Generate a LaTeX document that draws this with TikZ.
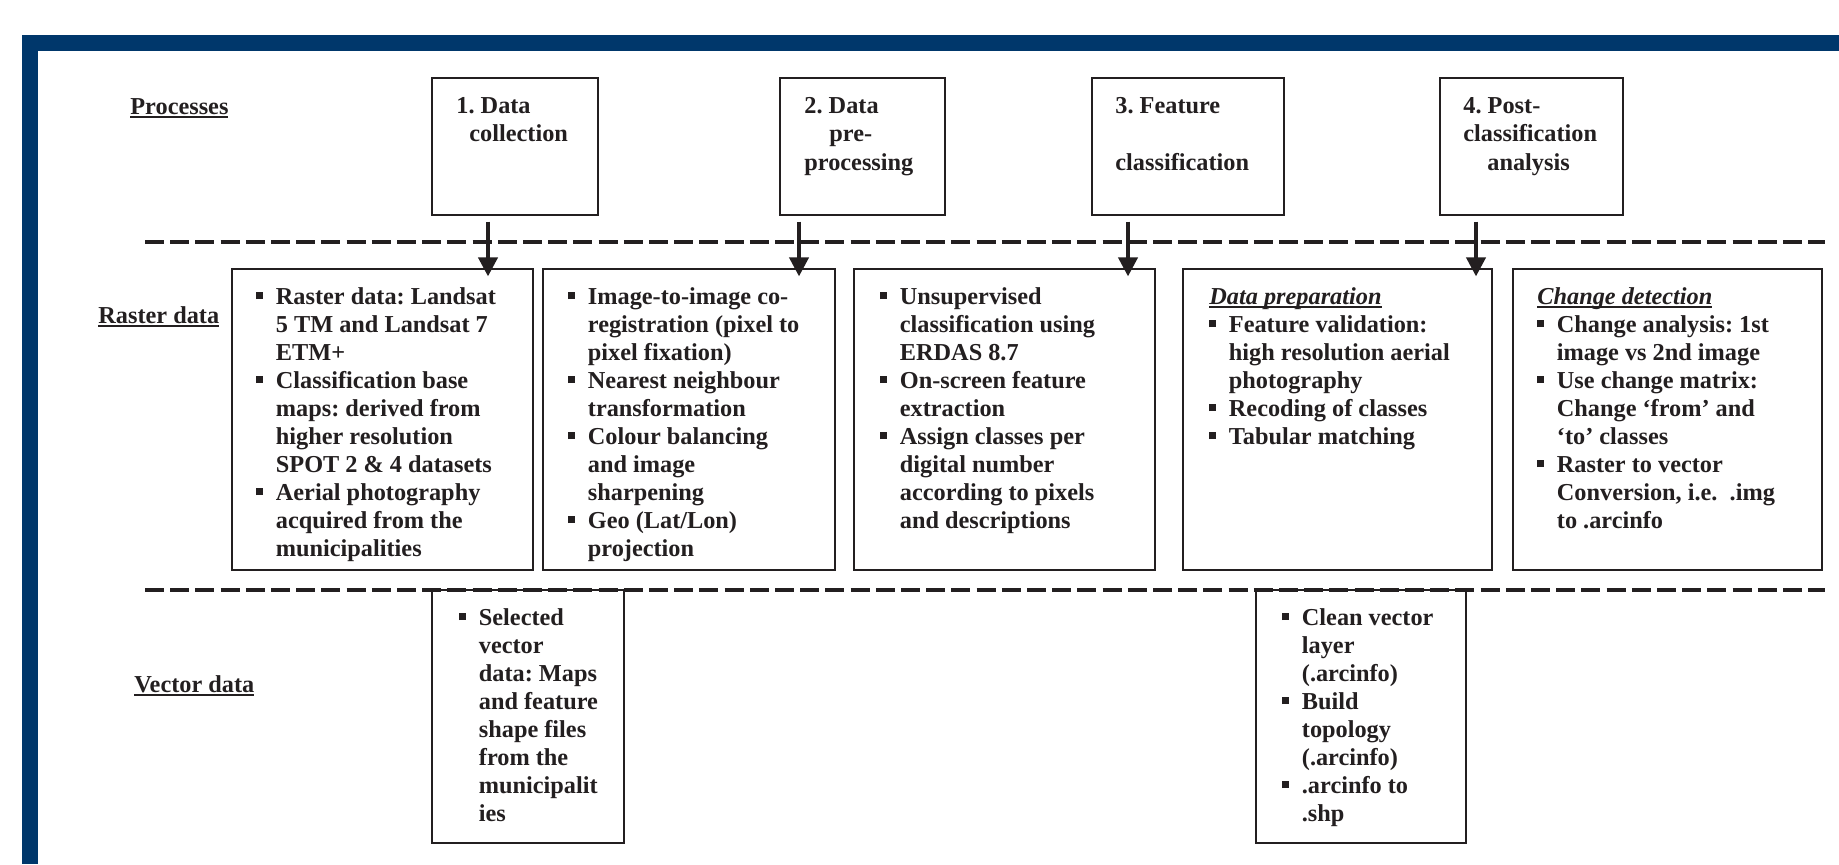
\documentclass[tikz,border=0pt]{standalone}
\usepackage{fontspec}
\setmainfont{Liberation Serif}
\usetikzlibrary{arrows.meta}
\definecolor{frameblue}{RGB}{0,55,107}
\definecolor{ink}{RGB}{35,31,32}
\newcommand\bul{\rule[2.5pt]{3.4pt}{3.5pt}\hspace*{6.35pt}}
\newcommand\ind{\hspace*{9.75pt}}
\newcommand\myul[1]{\setbox0\hbox{#1}\rlap{\rule[-2pt]{\wd0}{1.25pt}}\box0}
\frenchspacing
\begin{document}
\begin{tikzpicture}[x=0.5pt,y=-0.5pt,
  box/.style={draw=ink, line width=0.6pt, inner sep=0pt, fill=white},
  txt/.style={anchor=base west, inner sep=0pt, align=left, text=ink,
    font=\fontsize{12.15}{14}\selectfont\bfseries\frenchspacing},
  ptxt/.style={anchor=base west, inner sep=0pt, align=left, text=ink,
    font=\fontsize{12.15}{14.25}\selectfont\bfseries\frenchspacing},
  dashline/.style={draw=ink, line width=2.1pt, dash pattern=on 9.5pt off 3.1pt},
  arr/.style={draw=ink, line width=2pt, -{Triangle[length=9.5pt,width=9.5pt]}}]
\useasboundingbox (0,0) rectangle (1839,864);
% frame
\fill[frameblue] (22,35) rectangle (1839,51);
\fill[frameblue] (22,35) rectangle (38,864);
% row labels
\node[txt] (lproc) at (130,114) {\myul{Processes}};
\node[txt] (lrast) at (98,323) {\myul{Raster data}};
\node[txt] (lvect) at (134,692) {\myul{Vector data}};
% process boxes
\node[box, minimum width=83pt, minimum height=68.5pt] (p1) at (515,146.5) {};
\node[box, minimum width=82.5pt, minimum height=68.5pt] (p2) at (862.5,146.5) {};
\node[box, minimum width=96pt, minimum height=68.5pt] (p3) at (1188,146.5) {};
\node[box, minimum width=91.5pt, minimum height=68.5pt] (p4) at (1531.5,146.5) {};
% (anchor = baseline of the LAST line)
\node[ptxt] (t1) at (456,141.5) {1. Data\\\hspace*{6.5pt}collection};
\node[ptxt] (t2) at (804,170) {2. Data\\\hspace*{12.5pt}pre-\\processing};
\node[ptxt] (t3) at (1115,170) {3. Feature\\\mbox{}\\classification};
\node[ptxt] (t4) at (1463,170) {4. Post-\\classification\\\hspace*{12pt}analysis};
% raster boxes
\node[box, minimum width=150.5pt, minimum height=150.5pt] (r1) at (382.5,419.5) {};
\node[box, minimum width=146pt, minimum height=150.5pt] (r2) at (689,419.5) {};
\node[box, minimum width=150.5pt, minimum height=150.5pt] (r3) at (1004.5,419.5) {};
\node[box, minimum width=154.5pt, minimum height=150.5pt] (r4) at (1337.5,419.5) {};
\node[box, minimum width=154.5pt, minimum height=150.5pt] (r5) at (1667.5,419.5) {};
% vector boxes
\node[box, minimum width=96pt, minimum height=126.5pt] (v1) at (528,716.5) {};
\node[box, minimum width=105pt, minimum height=126.5pt] (v2) at (1361,716.5) {};
% dashed separators
\coordinate (d1a) at (145,242); \coordinate (d1b) at (1825,242);
\coordinate (d2a) at (145,590); \coordinate (d2b) at (1825,590);
\draw[dashline] (d1a) -- (d1b);
\draw[dashline] (d2a) -- (d2b);
% arrows
\coordinate (c1) at (488,0);
\coordinate (c2) at (799,0);
\coordinate (c3) at (1128,0);
\coordinate (c4) at (1476,0);
\draw[arr] (c1 |- p1.south) ++(0,6) -- ([yshift=-4pt]c1 |- r1.north);
\draw[arr] (c2 |- p2.south) ++(0,6) -- ([yshift=-4pt]c2 |- r2.north);
\draw[arr] (c3 |- p3.south) ++(0,6) -- ([yshift=-4pt]c3 |- r3.north);
\draw[arr] (c4 |- p4.south) ++(0,6) -- ([yshift=-4pt]c4 |- r4.north);
% raster texts
\node[txt] (x1) at (256,556) {\bul Raster data: Landsat\\
\ind 5 TM and Landsat 7\\
\ind ETM+\\
\bul Classification base\\
\ind maps: derived from\\
\ind higher resolution\\
\ind SPOT 2 \& 4 datasets\\
\bul Aerial photography\\
\ind acquired from the\\
\ind municipalities};
\node[txt] (x2) at (568,556) {\bul Image-to-image co-\\
\ind registration (pixel to\\
\ind pixel fixation)\\
\bul Nearest neighbour\\
\ind transformation\\
\bul Colour balancing\\
\ind and image\\
\ind sharpening\\
\bul Geo (Lat/Lon)\\
\ind projection};
\node[txt] (x3) at (880,528) {\bul Unsupervised\\
\ind classification using\\
\ind ERDAS 8.7\\
\bul On-screen feature\\
\ind extraction\\
\bul Assign classes per\\
\ind digital number\\
\ind according to pixels\\
\ind and descriptions};
\node[txt] (x4) at (1209,444) {\textit{\myul{Data preparation}}\\
\bul Feature validation:\\
\ind high resolution aerial\\
\ind photography\\
\bul Recoding of classes\\
\bul Tabular matching};
\node[txt] (x5) at (1537,528) {\textit{\myul{Change detection}}\\
\bul Change analysis: 1st\\
\ind image vs 2nd image\\
\bul Use change matrix:\\
\ind Change ‘from’ and\\
\ind ‘to’ classes\\
\bul Raster to vector\\
\ind Conversion, i.e.\ \ .img\\
\ind to .arcinfo};
% vector texts
\node[txt] (y1) at (459,821) {\bul Selected\\
\ind vector\\
\ind data: Maps\\
\ind and feature\\
\ind shape files\\
\ind from the\\
\ind municipalit\\
\ind ies};
\node[txt] (y2) at (1282,821) {\bul Clean vector\\
\ind layer\\
\ind (.arcinfo)\\
\bul Build\\
\ind topology\\
\ind (.arcinfo)\\
\bul .arcinfo to\\
\ind .shp};
\end{tikzpicture}
\end{document}
